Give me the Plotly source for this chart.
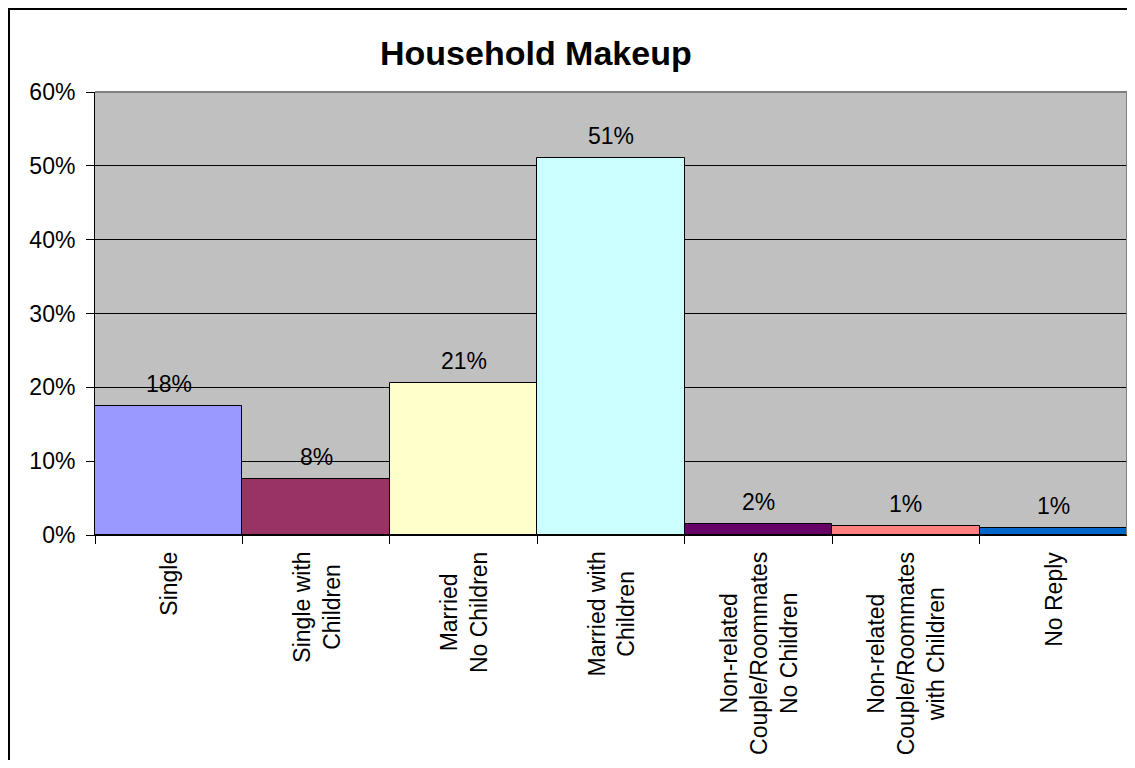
import plotly.graph_objects as go

categories = ["Single", "Single with Children", "Married No Children", "Married with Children",
              "Non-related Couple/Roommates No Children", "Non-related Couple/Roommates with Children",
              "No Reply"]
tick_labels = ["Single", "Single with<br>Children", "Married<br>No Children", "Married with<br>Children",
               "Non-related<br>Couple/Roommates<br>No Children",
               "Non-related<br>Couple/Roommates<br>with Children", "No Reply"]
values = [0.175, 0.076, 0.206, 0.511, 0.0155, 0.012, 0.009]
colors = ["#9999FF", "#993366", "#FFFFCC", "#CCFFFF", "#660066", "#FF8080", "#0066CC"]
y_ticks = [0, 0.1, 0.2, 0.3, 0.4, 0.5, 0.6]

W, H = 1119, 752
ML, MR, MT, MB = 87, 0, 84, 225
PW, PH = W - ML - MR, H - MT - MB
FONT = "Arial, Liberation Sans, sans-serif"

fig = go.Figure()
fig.add_trace(go.Bar(
    x=categories, y=values, width=1,
    marker=dict(color=colors, line=dict(color="black", width=1)),
    hoverinfo="skip", showlegend=False,
))

annotations = []
for c, v in zip(categories, values):
    annotations.append(dict(x=c, y=v, xref="x", yref="y", text=f"{v:.0%}", showarrow=False,
                            yanchor="middle", yshift=22, font=dict(size=23, color="black", family=FONT)))
for c, t in zip(categories, tick_labels):
    annotations.append(dict(x=c, y=0, xref="x", yref="paper", text=t, showarrow=False,
                            textangle=-90, align="center", xanchor="center", yanchor="top",
                            yshift=-15, font=dict(size=23, color="black", family=FONT)))
annotations.append(dict(x=(528 - ML) / PW, y=1 + (MT - 45) / PH, xref="paper", yref="paper",
                        text="<b>Household Makeup</b>", showarrow=False, xanchor="center", yanchor="middle",
                        font=dict(size=34, color="black", family=FONT)))

shapes = [
    # plot area border (top & right)
    dict(type="line", xref="paper", yref="paper", x0=0, x1=1, y0=1, y1=1, line=dict(color="#808080", width=2)),
    dict(type="line", xref="paper", yref="paper", x0=1, x1=1, y0=0, y1=1, line=dict(color="#808080", width=2)),
    # chart outer border
    dict(type="rect", xref="paper", yref="paper",
         x0=(1 - ML) / PW, x1=(W + 20 - ML) / PW,
         y0=-(MB + 20) / PH, y1=1 + (MT - 1) / PH,
         line=dict(color="black", width=2)),
]

fig.update_layout(
    width=W, height=H,
    margin=dict(l=ML, r=MR, t=MT, b=MB, pad=0),
    paper_bgcolor="white", plot_bgcolor="#C0C0C0",
    font=dict(family=FONT, size=23, color="black"),
    bargap=0,
    annotations=annotations, shapes=shapes,
    xaxis=dict(type="category", tickson="boundaries", showticklabels=False, ticks="outside",
               ticklen=8, tickcolor="black", tickwidth=1, showgrid=False, showline=True,
               linecolor="black", linewidth=1, fixedrange=True),
    yaxis=dict(range=[0, 0.6], tickvals=y_ticks, tickformat=".0%", ticks="outside", ticklen=8,
               tickcolor="black", tickwidth=1, showgrid=True, gridcolor="black", gridwidth=1,
               showline=True, linecolor="black", linewidth=1, zeroline=False, ticklabelstandoff=6,
               tickfont=dict(size=23, family=FONT, color="black"), fixedrange=True),
)

fig.write_html("out.html")
